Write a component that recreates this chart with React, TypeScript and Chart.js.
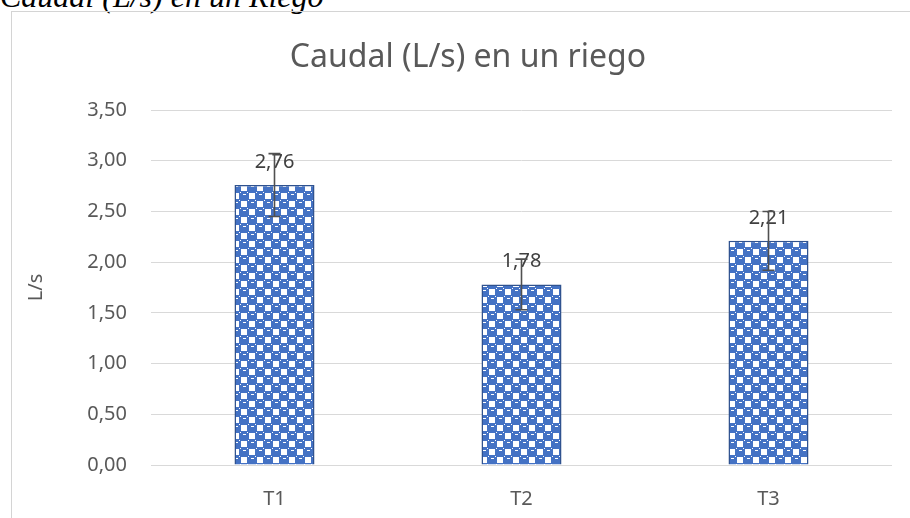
import React, { useEffect, useRef } from "react";
import { Chart, registerables } from "chart.js";

Chart.register(...registerables);

const categories = ["T1", "T2", "T3"];
const caudal = [2.76, 1.78, 2.21];
const errores = [0.31, 0.25, 0.29];
const yTicks = [0, 0.5, 1, 1.5, 2, 2.5, 3, 3.5];
const titulo = "Caudal (L/s) en un riego";
const encabezado = "Caudal (L/s) en un Riego";
const ejeY = "L/s";

const FONT = "'Noto Sans', sans-serif";
const GRAY = "#595959";

const fmt = (v: number) => v.toFixed(2).replace(".", ",");

function makePattern(): CanvasPattern | string {
  const c = document.createElement("canvas");
  c.width = 16;
  c.height = 16;
  const ctx = c.getContext("2d");
  if (!ctx) return "#4472C4";
  ctx.fillStyle = "#4472C4";
  ctx.fillRect(0, 0, 16, 16);
  ctx.fillStyle = "#ffffff";
  // white checker squares
  ctx.fillRect(9, 1, 6, 6);
  ctx.fillRect(1, 9, 6, 6);
  // highlights on blue cells
  ctx.fillRect(3, 2, 3, 1);
  ctx.fillRect(11, 10, 3, 1);
  // rounded corners of blue cells
  ctx.fillRect(0, 0, 1, 1);
  ctx.fillRect(7, 0, 1, 1);
  ctx.fillRect(8, 8, 1, 1);
  ctx.fillRect(15, 8, 1, 1);
  return ctx.createPattern(c, "repeat") || "#4472C4";
}

const overlayPlugin = {
  id: "overlay",
  afterDatasetsDraw(chart: any) {
    const ctx = chart.ctx;
    const meta = chart.getDatasetMeta(0);
    const yScale = chart.scales.y;
    ctx.save();
    // data labels
    ctx.fillStyle = "#404040";
    ctx.font = `20px ${FONT}`;
    ctx.textAlign = "center";
    ctx.textBaseline = "alphabetic";
    meta.data.forEach((bar: any, i: number) => {
      ctx.fillText(fmt(caudal[i]), bar.x, bar.y - 17);
    });
    // error bars
    ctx.strokeStyle = "#505050";
    ctx.lineWidth = 1.6;
    meta.data.forEach((bar: any, i: number) => {
      const top = yScale.getPixelForValue(caudal[i] + errores[i]);
      const bot = yScale.getPixelForValue(caudal[i] - errores[i]);
      ctx.beginPath();
      ctx.moveTo(bar.x, top);
      ctx.lineTo(bar.x, bot);
      ctx.moveTo(bar.x - 6, top);
      ctx.lineTo(bar.x + 6, top);
      ctx.moveTo(bar.x - 6, bot);
      ctx.lineTo(bar.x + 6, bot);
      ctx.stroke();
    });
    // title
    ctx.fillStyle = GRAY;
    ctx.font = `32px ${FONT}`;
    ctx.textBaseline = "middle";
    ctx.fillText(titulo, chart.width / 2 + 13, 58);
    ctx.restore();
  },
};

export default function App() {
  const ref = useRef<HTMLCanvasElement | null>(null);

  useEffect(() => {
    if (!ref.current) return;
    const pattern = makePattern();
    const chart = new Chart(ref.current, {
      type: "bar",
      data: {
        labels: categories,
        datasets: [
          {
            data: caudal,
            backgroundColor: pattern as any,
            borderColor: "#2F528F",
            borderWidth: 1.5,
            categoryPercentage: 1,
            barPercentage: 0.324,
          },
        ],
      },
      options: {
        responsive: false,
        animation: false,
        layout: { padding: { top: 110, right: 18, bottom: 0, left: 0 } },
        plugins: {
          legend: { display: false },
          title: { display: false },
          tooltip: { enabled: false },
        },
        scales: {
          x: {
            grid: { display: false, drawTicks: false },
            border: { display: false },
            ticks: { color: GRAY, font: { family: FONT, size: 20 }, padding: 22 },
            afterFit: (s: any) => {
              s.height = 53;
            },
          },
          y: {
            min: 0,
            max: 3.5,
            grid: { color: "#d9d9d9", lineWidth: 1, drawTicks: false },
            border: { display: false },
            ticks: {
              color: GRAY,
              font: { family: FONT, size: 20 },
              padding: 24,
              callback: (v: any) => fmt(Number(v)),
            },
            afterBuildTicks: (s: any) => {
              s.ticks = yTicks.map((v) => ({ value: v }));
            },
            title: {
              display: true,
              text: ejeY,
              color: GRAY,
              font: { family: FONT, size: 20 },
              padding: { top: 24, bottom: 0 },
            },
            afterFit: (s: any) => {
              s.width = 151;
            },
          },
        },
      },
      plugins: [overlayPlugin],
    });
    return () => chart.destroy();
  }, []);

  return (
    <div
      style={{
        position: "fixed",
        left: 0,
        top: 0,
        width: 910,
        height: 518,
        overflow: "hidden",
        background: "#ffffff",
      }}
    >
      <div
        style={{
          position: "absolute",
          left: 0,
          top: -20,
          whiteSpace: "nowrap",
          fontFamily: "'Liberation Serif', serif",
          fontStyle: "italic",
          fontSize: 32,
          lineHeight: "32px",
          color: "#000",
        }}
      >
        {encabezado}
      </div>
      <div
        style={{
          position: "absolute",
          left: 11,
          top: 11,
          width: 920,
          height: 530,
          borderLeft: "1px solid #d4d4d4",
          borderTop: "1px solid #d4d4d4",
        }}
      />
      <canvas
        ref={ref}
        width={910}
        height={518}
        style={{ position: "absolute", left: 0, top: 0, width: 910, height: 518 }}
      />
    </div>
  );
}
